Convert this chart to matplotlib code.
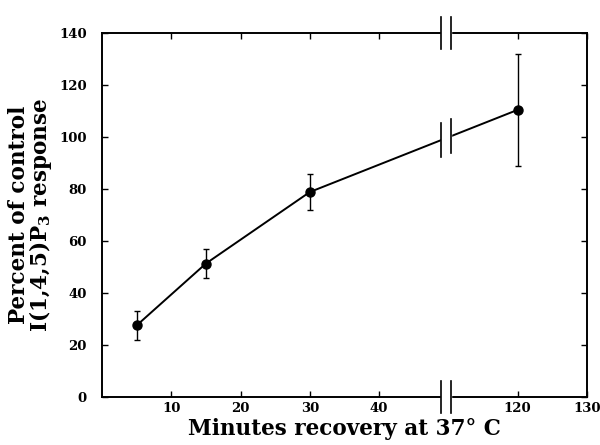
import numpy as np
import matplotlib
matplotlib.use("Agg")
import matplotlib.pyplot as plt
import matplotlib.transforms as mtransforms

plt.rcParams["font.family"] = "DejaVu Serif"
plt.rcParams["font.weight"] = "bold"
plt.rcParams["axes.labelweight"] = "bold"
plt.rcParams["mathtext.fontset"] = "custom"
plt.rcParams["mathtext.rm"] = "DejaVu Serif:bold"
plt.rcParams["mathtext.default"] = "rm"

# data
minutes = np.array([5, 15, 30, 120])
percent = np.array([27.5, 51.3, 78.8, 110.4])
sem = np.array([5.6, 5.7, 6.8, 21.6])

x_ticks = [10, 20, 30, 40, 120, 130]
y_ticks = [0, 20, 40, 60, 80, 100, 120, 140]

# broken x axis: 0..49 kept, 110..130 shifted left by 60
SHIFT = 60
BREAK_LO, BREAK_HI = 49.0, 50.4


def to_axis(x):
    x = np.asarray(x, dtype=float)
    return np.where(x >= 100, x - SHIFT, x)


fig = plt.figure(figsize=(6, 4.45), dpi=100)
ax = fig.add_axes([0.17, 0.108, 0.808, 0.818])

px = to_axis(minutes)
ax.errorbar(px, percent, yerr=sem, fmt="-o", color="black", lw=1.4,
            ms=6.5, elinewidth=1.0, capsize=2.5, capthick=1.0, zorder=3)

ax.set_xlim(0, 70)
ax.set_ylim(0, 140)
ax.set_xticks(to_axis(x_ticks))
ax.set_xticklabels([str(t) for t in x_ticks])
ax.set_yticks(y_ticks)

ax.tick_params(direction="in", top=True, right=True, length=4, width=1,
               labelsize=9.5)
ax.tick_params(axis="x", pad=4)
ax.tick_params(axis="y", pad=11)
for s in ax.spines.values():
    s.set_linewidth(1.4)

# white gap across the break
trans = mtransforms.blended_transform_factory(ax.transData, ax.transAxes)
ax.add_patch(plt.Rectangle((BREAK_LO, -0.02), BREAK_HI - BREAK_LO, 1.04,
                           transform=trans, color="white", zorder=5,
                           clip_on=False))

# break marks on top / bottom spines
for xb in (BREAK_LO, BREAK_HI):
    for yb in (0, 1):
        ax.plot([xb, xb], [yb - 0.045, yb + 0.045], transform=trans,
                color="black", lw=1.2, zorder=6, clip_on=False)
    # break marks on the data line
    yl = np.interp(xb, px, percent)
    ax.plot([xb, xb], [yl - 6.5, yl + 6.5], color="black", lw=1.2, zorder=6)

ax.set_xlabel("Minutes recovery at 37\u00b0 C", fontsize=15.5, labelpad=2)
ax.set_ylabel("Percent of control\nI(1,4,5)P$_3$ response", fontsize=15.5,
              linespacing=0.85, labelpad=4)

fig.savefig("out.png", dpi=100)
